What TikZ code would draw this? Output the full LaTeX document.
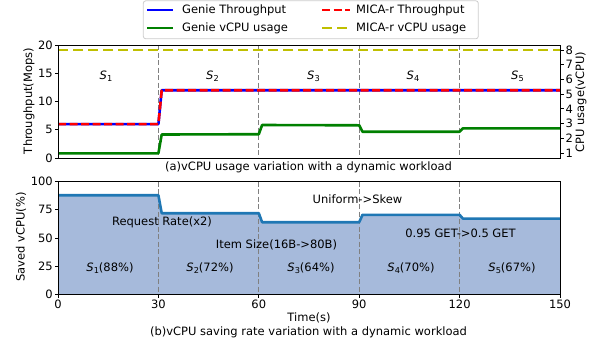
\documentclass[tikz,border=0pt]{standalone}
\usepackage{fontspec}
\setmainfont{DejaVu Sans}
\definecolor{mblue}{rgb}{0,0,1}
\definecolor{mred}{rgb}{1,0,0}
\definecolor{mgreen}{rgb}{0,0.5,0}
\definecolor{myellow}{rgb}{0.75,0.75,0}
\definecolor{czero}{HTML}{1F77B4}
\definecolor{fillb}{RGB}{166,186,219}
\newcommand\Sub[2]{\textit{#1}\raisebox{-0.3ex}{\fontsize{8.2}{9}\selectfont #2}}
\begin{document}
\begin{tikzpicture}[x=1pt,y=-1pt,
  every node/.style={font=\fontsize{11.5}{13}\selectfont, inner sep=0pt},
  vline/.style={draw=gray, line width=1.1, dash pattern=on 5 off 2.5},
  frame/.style={draw=black, line width=0.9},
  tick/.style={draw=black, line width=0.8},
  thick line/.style={line width=2.6, line join=round}]
\useasboundingbox (0,0) rectangle (594,349);

% ===== top plot =====
\foreach \x in {158.4,258.8,359.2,459.6} \draw[vline] (\x,45) -- (\x,158);
\draw[myellow, thick line, dash pattern=on 10 off 5] (58,50) -- (560,50);
\draw[mgreen, thick line] (58,153.3) -- (158.4,153.3) -- (161.7,134.5) -- (258.8,134.2) -- (262.1,125) -- (359.2,125.3) -- (362.5,131.7) -- (459.6,131.7) -- (462.9,128.3) -- (560,128.3);
\draw[mblue, thick line] (58,124.1) -- (158.4,124.1) -- (161.7,90.2) -- (560,90.2);
\draw[mred, thick line, dash pattern=on 8 off 3.5] (58,124.1) -- (158.4,124.1) -- (161.7,90.2) -- (560,90.2);
\draw[frame] (58,45) rectangle (560,158);
\foreach \v in {0,5,10,15,20} {
  \draw[tick] (58,158-5.65*\v) -- (54.5,158-5.65*\v);
  \node[anchor=east] at (53,158-5.65*\v) {\v};
}
\foreach \c in {1,...,8} {
  \draw[tick] (560,153-14.71*\c+14.71) -- (563.5,153-14.71*\c+14.71);
  \node[anchor=west] at (565.5,153-14.71*\c+14.71) {\c};
}
\node[rotate=90] (ylt) at (29,101) {Throughput(Mops)};
\node[rotate=90] (yrt) at (581,102) {CPU usage(vCPU)};
\node (s1) at (106,76) {\Sub{S}{1}};
\node (s2) at (212.5,76) {\Sub{S}{2}};
\node (s3) at (313.5,76) {\Sub{S}{3}};
\node (s4) at (413,76) {\Sub{S}{4}};
\node (s5) at (517.5,76) {\Sub{S}{5}};
\node (capa) at (308.5,167) {(a)vCPU usage variation with a dynamic workload};

% legend
\draw[draw=black!20, fill=white, rounded corners=2.5, line width=0.8] (143.3,0.8) rectangle (478.3,38.8);
\draw[mblue, thick line] (147,10) -- (173,10);
\draw[mgreen, thick line] (147,28) -- (173,28);
\draw[mred, thick line, dash pattern=on 8 off 3.5] (322,10) -- (350,10);
\draw[myellow, thick line, dash pattern=on 10 off 5] (322,28) -- (350,28);
\node[anchor=west] (l1) at (182,10) {Genie Throughput};
\node[anchor=west] (l2) at (182,28) {Genie vCPU usage};
\node[anchor=west] (l3) at (356,10) {MICA-r Throughput};
\node[anchor=west] (l4) at (356,28) {MICA-r vCPU usage};

% ===== bottom plot =====
\fill[fillb] (58,294.3) -- (58,195.2) -- (158.4,195.2) -- (161.7,213.2) -- (258.8,213.2) -- (262.1,222.2) -- (359.2,222.2) -- (362.5,214.8) -- (459.6,214.8) -- (462.9,218.6) -- (560,218.6) -- (560,294.3) -- cycle;
\foreach \x in {158.4,258.8,359.2,459.6} \draw[vline] (\x,181.7) -- (\x,294.3);
\draw[czero, thick line] (58,195.2) -- (158.4,195.2) -- (161.7,213.2) -- (258.8,213.2) -- (262.1,222.2) -- (359.2,222.2) -- (362.5,214.8) -- (459.6,214.8) -- (462.9,218.6) -- (560,218.6);
\draw[frame] (58,181.7) rectangle (560,294.3);
\foreach \p in {0,25,50,75,100} {
  \draw[tick] (58,294.3-1.1258*\p) -- (54.5,294.3-1.1258*\p);
  \node[anchor=east] at (53,294.3-1.1258*\p) {\p};
}
\foreach \t in {0,30,60,90,120,150} {
  \draw[tick] (58+3.3467*\t,294.3) -- (58+3.3467*\t,297.8);
  \node[anchor=north] at (58+3.3467*\t,299.5) {\t};
}
\node[rotate=90] (ylb) at (21,237) {Saved vCPU(\%)};
\node (t1) at (162,222) {Request Rate(x2)};
\node (t2) at (276.5,245) {Item Size(16B->80B)};
\node (t3) at (357.5,199) {Uniform->Skew};
\node (t4) at (460.5,233) {0.95 GET->0.5 GET};
\node (b1) at (110,268) {\Sub{S}{1}(88\%)};
\node (b2) at (210,268) {\Sub{S}{2}(72\%)};
\node (b3) at (311,268) {\Sub{S}{3}(64\%)};
\node (b4) at (411,268) {\Sub{S}{4}(70\%)};
\node (b5) at (512,268) {\Sub{S}{5}(67\%)};
\node (xl) at (309,318) {Time(s)};
\node (capb) at (308.5,332) {(b)vCPU saving rate variation with a dynamic workload};
\end{tikzpicture}
\end{document}
